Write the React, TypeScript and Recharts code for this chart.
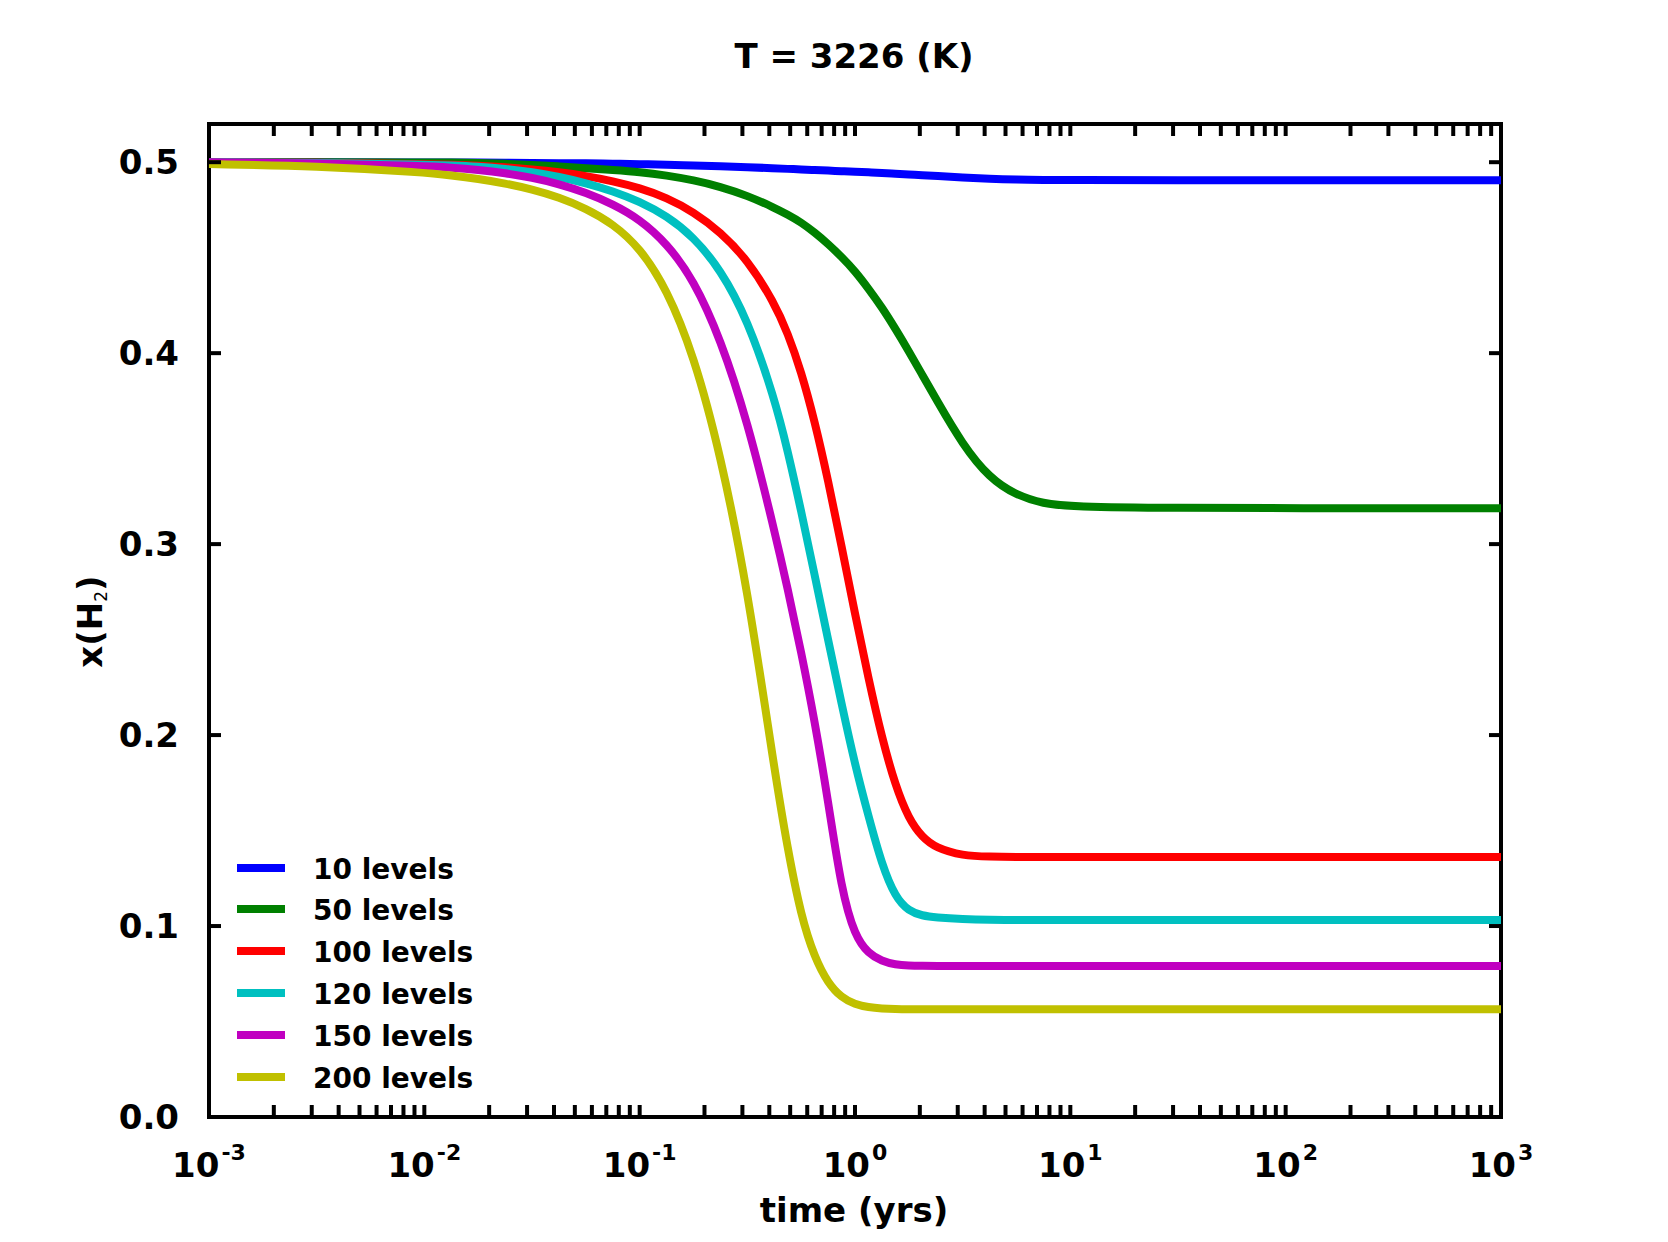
import { LineChart, Line, XAxis, YAxis, ReferenceArea, Legend } from "recharts";

// time grid (yrs), shared by every series
const times = [
  0.001, 0.003162, 0.01, 0.01334, 0.01778, 0.02371, 0.03162, 0.04217, 0.05623, 0.07499,
  0.1, 0.1334, 0.1778, 0.2371, 0.3162, 0.4217, 0.487, 0.5623, 0.6494, 0.7499,
  0.866, 1, 1.155, 1.334, 1.54, 1.778, 2.054, 2.371, 3.162, 4.217,
  5.623, 7.499, 10, 31.62, 100, 1000,
];

const lev10 = [
  0.5, 0.5, 0.4999, 0.4998, 0.4998, 0.4997, 0.4996, 0.4995, 0.4994, 0.4992,
  0.499, 0.4987, 0.4983, 0.4979, 0.4974, 0.4968, 0.4965, 0.4962, 0.4959, 0.4956,
  0.4953, 0.495, 0.4947, 0.4943, 0.494, 0.4936, 0.4932, 0.4928, 0.492, 0.4913,
  0.4909, 0.4907, 0.4906, 0.4906, 0.4906, 0.4906,
];
const lev50 = [
  0.5, 0.5, 0.4999, 0.4998, 0.4996, 0.4992, 0.4986, 0.4978, 0.4969, 0.4959,
  0.4949, 0.4931, 0.4906, 0.4872, 0.4825, 0.4762, 0.4725, 0.4685, 0.4632, 0.4572,
  0.4505, 0.443, 0.4338, 0.424, 0.4128, 0.401, 0.3886, 0.3762, 0.352, 0.3345,
  0.3255, 0.3212, 0.3196, 0.3189, 0.3188, 0.3188,
];
const lev100 = [
  0.5, 0.4998, 0.499, 0.4987, 0.4982, 0.4974, 0.4963, 0.4948, 0.4928, 0.4901,
  0.4865, 0.4815, 0.474, 0.4635, 0.449, 0.4265, 0.4105, 0.3905, 0.3645, 0.3335,
  0.299, 0.2635, 0.2295, 0.1985, 0.1735, 0.156, 0.1465, 0.141, 0.1368, 0.1363,
  0.1362, 0.1362, 0.1362, 0.1362, 0.1362, 0.1362,
];
const lev120 = [
  0.5, 0.4997, 0.4987, 0.4983, 0.4977, 0.4966, 0.4949, 0.4924, 0.4891, 0.4849,
  0.4794, 0.4719, 0.4609, 0.4439, 0.4179, 0.3769, 0.3489, 0.3174, 0.2839, 0.2499,
  0.2164, 0.1844, 0.1575, 0.132, 0.115, 0.1078, 0.1054, 0.1045, 0.1036, 0.1032,
  0.1031, 0.1031, 0.1031, 0.1031, 0.1031, 0.1031,
];
const lev150 = [
  0.5, 0.4994, 0.498, 0.4972, 0.496, 0.4943, 0.4919, 0.4886, 0.4841, 0.4781,
  0.4701, 0.4576, 0.4386, 0.4076, 0.3646, 0.3076, 0.2766, 0.2436, 0.2076, 0.1656,
  0.1186, 0.0946, 0.0856, 0.0816, 0.0798, 0.0793, 0.0792, 0.0791, 0.0791, 0.0791,
  0.0791, 0.0791, 0.0791, 0.0791, 0.0791, 0.0791,
];
const lev200 = [
  0.499, 0.4981, 0.4946, 0.4931, 0.4913, 0.4889, 0.4858, 0.4816, 0.4758, 0.4678,
  0.4553, 0.4338, 0.3993, 0.3473, 0.2773, 0.1823, 0.14, 0.105, 0.0835, 0.07,
  0.0625, 0.059, 0.0574, 0.0568, 0.0565, 0.0564, 0.0564, 0.0564, 0.0564, 0.0564,
  0.0564, 0.0564, 0.0564, 0.0564, 0.0564, 0.0564,
];

const seriesNames = ["10 levels", "50 levels", "100 levels", "120 levels", "150 levels", "200 levels"];
const seriesKeys = ["l10", "l50", "l100", "l120", "l150", "l200"];
const seriesColors = ["#0000ff", "#008000", "#ff0000", "#00c0c0", "#c000c0", "#c0c000"];
const seriesValues = [lev10, lev50, lev100, lev120, lev150, lev200];

const xMajors = [0.001, 0.01, 0.1, 1, 10, 100, 1000];
const xExponents = ["-3", "-2", "-1", "0", "1", "2", "3"];
const yTicks = [0, 0.1, 0.2, 0.3, 0.4, 0.5];

// minor ticks 2..9 inside each decade
const xMinors: number[] = [];
xMajors.slice(0, -1).forEach((m) => {
  for (let k = 2; k <= 9; k++) xMinors.push(m * k);
});

const data = times.map((t, i) => {
  const row: any = { t };
  seriesKeys.forEach((k, s) => (row[k] = seriesValues[s][i]));
  return row;
});

const W = 1652;
const H = 1226;
const X_AXIS_H = 60;
const Y_AXIS_W = 60;
const margin = { top: 116, right: 159, bottom: 117 - X_AXIS_H, left: 201 - Y_AXIS_W };
const PW = 1292;
const PH = 993;
const TICK = 12;

const font: any = {
  fontFamily: "'DejaVu Sans', sans-serif",
  fontWeight: "bold",
  fill: "#000",
};

function XTick(props: any) {
  const { x, y, payload } = props;
  const k = xMajors.indexOf(payload.value);
  return (
    <g>
      <line x1={x} x2={x} y1={y} y2={y - TICK} stroke="#000" strokeWidth={4} />
      <line x1={x} x2={x} y1={y - PH} y2={y - PH + TICK} stroke="#000" strokeWidth={4} />
      {k >= 0 && (
        <text x={x} y={y + 60} textAnchor="middle" style={{ ...font, fontSize: 34 }}>
          10
          <tspan dx={2} dy={-17} style={{ fontSize: 22 }}>
            {xExponents[k]}
          </tspan>
        </text>
      )}
    </g>
  );
}

function YTick(props: any) {
  const { x, y, payload } = props;
  return (
    <g>
      <line x1={x} x2={x + TICK} y1={y} y2={y} stroke="#000" strokeWidth={4} />
      <line x1={x + PW} x2={x + PW - TICK} y1={y} y2={y} stroke="#000" strokeWidth={4} />
      <text x={x - 30} y={y} dy="0.36em" textAnchor="end" style={{ ...font, fontSize: 34 }}>
        {payload.value.toFixed(1)}
      </text>
    </g>
  );
}

function LegendBox(props: any) {
  const items = [...(props.payload || [])].sort(
    (a: any, b: any) => seriesNames.indexOf(a.value) - seriesNames.indexOf(b.value)
  );
  return (
    <div>
      {items.map((e: any) => (
        <div key={e.value} style={{ display: "flex", alignItems: "center", height: 41.8 }}>
          <span style={{ display: "block", width: 48, height: 8, background: e.color }} />
          <span
            style={{
              marginLeft: 28,
              position: "relative",
              top: 2,
              fontFamily: "'DejaVu Sans', sans-serif",
              fontWeight: "bold",
              fontSize: 28,
              lineHeight: 1,
              whiteSpace: "nowrap",
            }}
          >
            {e.value}
          </span>
        </div>
      ))}
    </div>
  );
}

export default function App() {
  return (
    <div style={{ width: W, height: H }}>
      <LineChart width={W} height={H} data={data} margin={margin}>
        <XAxis
          dataKey="t"
          type="number"
          scale="log"
          domain={[0.001, 1000]}
          ticks={[...xMajors, ...xMinors]}
          interval={0}
          height={X_AXIS_H}
          axisLine={false}
          tickLine={false}
          tickSize={0}
          tickMargin={0}
          tick={(p: any) => <XTick {...p} />}
        />
        <YAxis
          type="number"
          domain={[0, 0.52]}
          ticks={yTicks}
          interval={0}
          width={Y_AXIS_W}
          axisLine={false}
          tickLine={false}
          tickSize={0}
          tickMargin={0}
          tick={(p: any) => <YTick {...p} />}
        />
        {seriesKeys.map((k, s) => (
          <Line
            key={k}
            dataKey={k}
            name={seriesNames[s]}
            type="basis"
            stroke={seriesColors[s]}
            strokeWidth={8}
            dot={false}
            activeDot={false}
            isAnimationActive={false}
          />
        ))}
        <ReferenceArea
          x1={0.001}
          x2={1000}
          y1={0}
          y2={0.52}
          fill="none"
          fillOpacity={0}
          stroke="#000"
          strokeWidth={4}
          strokeOpacity={1}
          isFront
          ifOverflow="visible"
        />
        <Legend
          layout="vertical"
          align="center"
          verticalAlign="middle"
          wrapperStyle={{ left: 229, top: 838.8, width: 320 }}
          content={(p: any) => <LegendBox {...p} />}
        />
        <text x={846} y={60} textAnchor="middle" style={{ ...font, fontSize: 34 }}>
          T = 3226 (K)
        </text>
        <text x={846} y={1214} textAnchor="middle" style={{ ...font, fontSize: 34 }}>
          time (yrs)
        </text>
        <text
          x={94}
          y={613.5}
          transform="rotate(-90 94 613.5)"
          textAnchor="middle"
          style={{ ...font, fontSize: 34 }}
        >
          x(H
          <tspan dy={5} style={{ fontSize: 17, fontWeight: "normal" }}>
            2
          </tspan>
          <tspan dy={-5}>)</tspan>
        </text>
      </LineChart>
    </div>
  );
}
